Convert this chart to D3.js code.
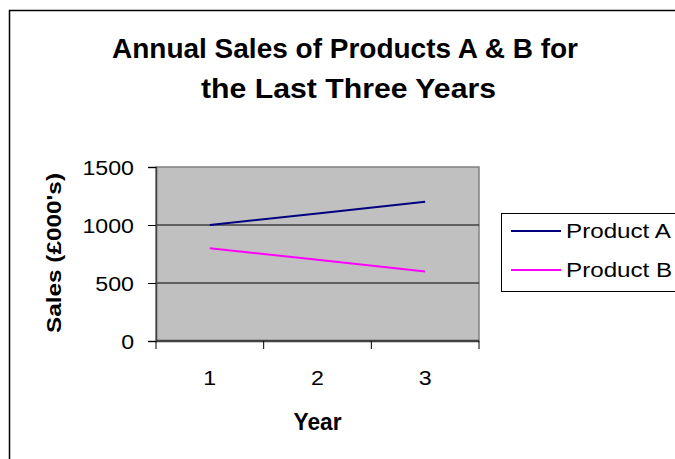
<!DOCTYPE html>
<html><head><meta charset="utf-8">
<script src="https://cdn.jsdelivr.net/npm/d3@7"></script>
<style>body{margin:0;background:#fff;overflow:hidden}svg{display:block}text{font-family:"Liberation Sans",Arial,sans-serif}</style>
</head><body><svg id="c" width="675" height="459"></svg>
<script>
const years = ["1","2","3"];
const productA = [1000, 1100, 1200];
const productB = [800, 700, 600];
const seriesNames = ["Product A","Product B"];
const seriesColors = ["#000080","#ff00ff"];
const yTicks = [0, 500, 1000, 1500];
const titleLines = ["Annual Sales of Products A & B for","the Last Three Years"];

function stretch(sel, f){
  sel.each(function(){
    const w = this.getComputedTextLength();
    d3.select(this).attr("textLength", w*f).attr("lengthAdjust","spacingAndGlyphs");
  });
}

const svg = d3.select("#c");
svg.append("rect").attr("x",9.5).attr("y",10.5).attr("width",700).attr("height",500)
  .attr("fill","#fff").attr("stroke","#000").attr("stroke-width",1.5);

const L=156, R=479, T=167, B=341;
const x = d3.scaleBand().domain(years).range([L,R]);
const y = d3.scaleLinear().domain([0,1500]).range([B,T]);

svg.append("rect").attr("x",L).attr("y",T).attr("width",R-L).attr("height",B-T)
  .attr("fill","#c0c0c0").attr("stroke","#808080").attr("stroke-width",1.5);

svg.append("g").selectAll("line").data(yTicks.filter(d=>d>0&&d<1500)).join("line")
  .attr("x1",L).attr("x2",R).attr("y1",d=>y(d)).attr("y2",d=>y(d))
  .attr("stroke","#000").attr("stroke-width",1);

const yAxis = d3.axisLeft(y).tickValues(yTicks).tickFormat(d3.format("d")).tickSize(8).tickPadding(14);
const gy = svg.append("g").attr("transform",`translate(${L},0)`).call(yAxis);
gy.attr("font-size",null).attr("font-family",null);
gy.select(".domain").attr("stroke","#404040").attr("stroke-width",1.5);
gy.selectAll(".tick line").attr("stroke","#000");
gy.selectAll("text").attr("font-size",20.5).attr("fill","#000").attr("dy","0.36em");
stretch(gy.selectAll("text"),1.13);

const xTickScale = d3.scaleLinear().domain([0,3]).range([L,R]);
const gx = svg.append("g").attr("transform",`translate(0,${B})`);
gx.append("line").attr("x1",L).attr("x2",R).attr("y1",0).attr("y2",0).attr("stroke","#404040").attr("stroke-width",2.5);
gx.selectAll("line.t").data(d3.range(4)).join("line").attr("class","t")
  .attr("x1",d=>xTickScale(d)).attr("x2",d=>xTickScale(d)).attr("y1",0).attr("y2",8).attr("stroke","#000");
const xl = gx.selectAll("text").data(years).join("text")
  .attr("x",d=>x(d)+x.bandwidth()/2).attr("y",43.5).attr("text-anchor","middle")
  .attr("font-size",20.5).text(d=>d);
stretch(xl,1.13);

const line = d3.line().x((d,i)=>x(years[i])+x.bandwidth()/2).y(d=>y(d));
[productA, productB].forEach((s,i)=>{
  svg.append("path").attr("d",line(s)).attr("fill","none")
    .attr("stroke",seriesColors[i]).attr("stroke-width",2);
});

svg.append("text").attr("x",345).attr("y",58).attr("text-anchor","middle")
  .attr("font-size",28).attr("font-weight","bold")
  .attr("textLength",466).attr("lengthAdjust","spacingAndGlyphs").text(titleLines[0]);
svg.append("text").attr("x",348.5).attr("y",98).attr("text-anchor","middle")
  .attr("font-size",28).attr("font-weight","bold")
  .attr("textLength",295).attr("lengthAdjust","spacingAndGlyphs").text(titleLines[1]);

svg.append("text").attr("x",(L+R)/2).attr("y",430).attr("text-anchor","middle")
  .attr("font-size",23).attr("font-weight","bold")
  .attr("textLength",48).attr("lengthAdjust","spacingAndGlyphs").text("Year");
svg.append("text").attr("transform","translate(61,253) rotate(-90)").attr("text-anchor","middle")
  .attr("font-size",21).attr("font-weight","bold")
  .attr("textLength",160).attr("lengthAdjust","spacingAndGlyphs").text("Sales (£000's)");

svg.append("rect").attr("x",501.5).attr("y",213.5).attr("width",200).attr("height",78)
  .attr("fill","#fff").attr("stroke","#000").attr("stroke-width",1);
const lg = svg.append("g").selectAll("g").data(seriesNames).join("g")
  .attr("transform",(d,i)=>`translate(0,${231+i*39})`);
lg.append("line").attr("x1",511).attr("x2",561).attr("y1",0).attr("y2",0)
  .attr("stroke",(d,i)=>seriesColors[i]).attr("stroke-width",2);
const lt = lg.append("text").attr("x",566).attr("y",6.5).attr("font-size",19.5).text(d=>d);
stretch(lt,1.24);
</script></body></html>
